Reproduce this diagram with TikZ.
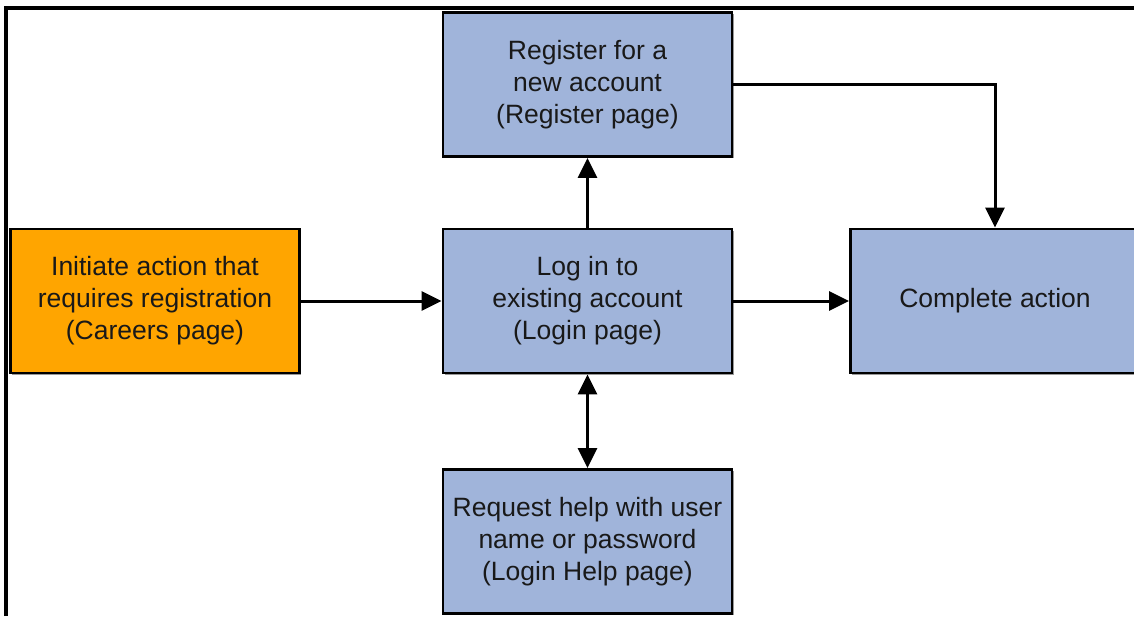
\documentclass[tikz,border=0pt]{standalone}
\usepackage{fontspec}
\setmainfont{Liberation Sans}
\usetikzlibrary{arrows.meta,shadows}
\definecolor{boxblue}{RGB}{160,180,218}
\definecolor{boxorange}{RGB}{255,165,0}
\definecolor{txt}{RGB}{25,25,25}
\tikzset{
  flowbox/.style={draw=black, line width=2.8pt, fill=boxblue, minimum width=289pt, minimum height=144pt,
    align=center, inner sep=0pt, text=txt, font=\fontsize{26.5}{32}\selectfont,
    drop shadow={shadow xshift=1.8pt, shadow yshift=-1.8pt, fill=black!40, opacity=1}},
  startbox/.style={flowbox, fill=boxorange},
  conn/.style={line width=3pt, -{Triangle[length=20pt,width=19pt]}},
  biconn/.style={line width=3pt, {Triangle[length=20pt,width=19pt]}-{Triangle[length=20pt,width=19pt]}},
  frameline/.style={line width=4pt, black}
}
\begin{document}
\begin{tikzpicture}[x=1pt,y=-1pt]
\clip (0,0) rectangle (1134,616);
\fill[white] (0,0) rectangle (1134,616);
\node[flowbox] (reg) at (587.5,84.5) {Register for a\\new account\\(Register page)};
\node[flowbox] (login) at (587.5,301) {Log in to\\existing account\\(Login page)};
\node[startbox] (init) at (155,301) {Initiate action that\\requires registration\\(Careers page)};
\node[flowbox] (done) at (995,301) {Complete action};
\node[flowbox] (help) at (587.5,541.5) {Request help with user\\name or password\\(Login Help page)};
\draw[conn] (init.east) -- (login.west);
\draw[conn] (login.east) -- (done.west);
\draw[conn] (login.north) -- (reg.south);
\draw[biconn] (login.south) -- (help.north);
\draw[conn] (reg.east) -| (done.north);
\coordinate (fa) at (6,616);
\coordinate (fb) at (6,8);
\coordinate (fc) at (1134,8);
\draw[frameline] (fa) -- (fb) -- (fc);
\end{tikzpicture}
\end{document}
